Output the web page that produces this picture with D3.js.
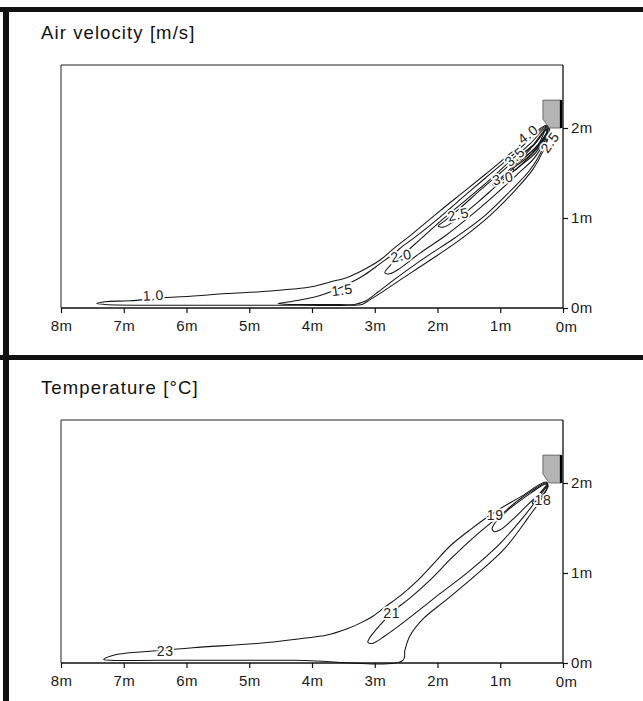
<!DOCTYPE html>
<html><head><meta charset="utf-8">
<script src="https://cdn.jsdelivr.net/npm/d3@7"></script>
<style>
body{margin:0;background:#fff}
text{font-family:"Liberation Sans",Arial,Helvetica,sans-serif}
</style>
</head><body>
<svg id="c" width="643" height="701"></svg>
<script>
// ---------- DATA (metres from wall, metres above floor) ----------
const xTicks = [8,7,6,5,4,3,2,1,0];
const yTicks = [0,1,2];
const panelTitles = ["Air velocity [m/s]", "Temperature [\u00B0C]"];

// Air velocity contours [m/s]
const velocityLevels = ["1.0","1.5","2.0","2.5","3.0","3.5","4.0"];
const v10 = [[0.26,2.03],[0.53,1.90],[0.80,1.74],[1.16,1.53],[1.53,1.32],[1.96,1.08],[2.39,0.83],[2.68,0.67],[2.92,0.53],[3.19,0.42],[3.44,0.34],[3.71,0.29],[3.98,0.24],[4.30,0.21],[4.83,0.18],[5.36,0.16],[5.94,0.13],[6.42,0.11],[6.90,0.08],[7.30,0.07],[7.43,0.05],
             [7.30,0.04],[6.42,0.03],[5.31,0.03],[4.19,0.03],[3.39,0.03],[3.20,0.04],[3.08,0.09],[2.92,0.16],[2.60,0.31],[2.12,0.53],[1.64,0.76],[1.16,1.03],[0.76,1.31],[0.48,1.54],[0.32,1.74],[0.21,1.97]];
const v15 = [[0.26,2.02],[0.53,1.87],[0.80,1.70],[1.16,1.49],[1.53,1.27],[1.96,1.01],[2.39,0.77],[2.57,0.68],[2.65,0.63],[2.92,0.49],[3.16,0.37],[3.39,0.28],[3.63,0.20],[3.87,0.14],[4.11,0.10],[4.35,0.07],[4.54,0.05],
             [4.35,0.04],[3.71,0.04],[3.32,0.04],[3.14,0.08],[2.98,0.16],[2.68,0.32],[2.20,0.56],[1.72,0.78],[1.24,1.03],[0.84,1.30],[0.53,1.53],[0.35,1.73],[0.22,1.97]];
const v20 = [[2.84,0.39],[2.73,0.49],[2.57,0.58],[2.28,0.76],[1.96,0.96],[1.53,1.21],[1.16,1.43],[0.80,1.66],[0.53,1.82],[0.26,2.01],
             [0.24,1.96],[0.43,1.69],[0.72,1.49],[1.08,1.26],[1.48,1.02],[1.88,0.80],[2.28,0.61],[2.60,0.44],[2.76,0.38]];
const v25 = [[1.99,0.91],[1.88,0.97],[1.64,1.11],[1.32,1.31],[1.00,1.50],[0.69,1.69],[0.43,1.84],[0.26,2.00],
             [0.25,1.96],[0.43,1.73],[0.72,1.56],[1.04,1.37],[1.35,1.18],[1.67,1.00],[1.90,0.90]];
const v30 = [[1.12,1.37],[1.00,1.44],[0.76,1.60],[0.53,1.76],[0.27,1.99],
             [0.25,1.97],[0.49,1.72],[0.76,1.57],[1.00,1.42],[1.10,1.36]];
const v35 = [[0.80,1.56],[0.61,1.67],[0.40,1.81],[0.27,1.98],
             [0.25,1.97],[0.40,1.78],[0.61,1.63],[0.78,1.53]];
const v40 = [[0.61,1.72],[0.45,1.82],[0.27,1.98],
             [0.25,1.97],[0.43,1.79],[0.59,1.70]];
const velocityContours = [v10, v15, v20, v25, v30, v35, v40];
const velocityLabelText = ["1.0","1.5","2.0","2.5","3.0","3.5","4.0","2.5"];
const velocityLabelX    = [6.53, 3.52, 2.58, 1.67, 0.96, 0.77, 0.56, 0.21];
const velocityLabelY    = [0.14, 0.20, 0.58, 1.04, 1.44, 1.68, 1.93, 1.84];

// Temperature contours [°C]
const temperatureLevels = ["23","21","19","18"];
const t23 = [[0.27,2.01],[0.69,1.84],[1.08,1.68],[1.48,1.48],[1.80,1.30],[2.04,1.12],[2.31,0.92],[2.57,0.76],[2.84,0.62],[3.03,0.52],[3.24,0.44],[3.44,0.38],[3.76,0.31],[4.19,0.27],[4.83,0.22],[5.90,0.17],[6.58,0.13],[6.95,0.11],[7.19,0.08],[7.32,0.04],
             [7.22,0.03],[6.42,0.03],[4.30,0.03],[2.55,0.03],[2.52,0.14],[2.44,0.30],[2.23,0.49],[1.88,0.69],[1.40,0.97],[0.92,1.28],[0.56,1.61],[0.33,1.84],[0.24,1.97]];
const t21 = [[0.27,2.00],[0.69,1.82],[1.00,1.64],[1.40,1.41],[1.77,1.17],[2.12,0.92],[2.44,0.72],[2.68,0.59],[2.84,0.48],[2.98,0.37],[3.08,0.28],[3.11,0.23],
             [3.03,0.22],[2.84,0.30],[2.49,0.48],[1.96,0.77],[1.48,1.03],[1.00,1.33],[0.61,1.64],[0.37,1.86],[0.25,1.98]];
const t19 = [[0.27,1.99],[0.61,1.84],[0.84,1.72],[1.00,1.62],[1.10,1.54],[1.13,1.49],[1.10,1.46],
             [1.00,1.48],[0.81,1.59],[0.56,1.76],[0.35,1.90],[0.25,1.97]];
const t18 = [[0.25,1.98],[0.35,1.90],[0.45,1.82],[0.49,1.78],[0.46,1.77],[0.37,1.83],[0.27,1.92],[0.24,1.96]];
const temperatureContours = [t23, t21, t19, t18];
const temperatureLabelText = ["23","21","19","18"];
const temperatureLabelX    = [6.34, 2.73, 1.08, 0.32];
const temperatureLabelY    = [0.13, 0.56, 1.64, 1.81];

// Air outlet (metres)
const outletX = [0.32, 0.03, 0.03, 0.22, 0.32];
const outletY = [2.31, 2.31, 2.00, 2.00, 2.10];

// ---------- DRAWING ----------
const svg = d3.select("#c");
svg.append("rect").attr("width",643).attr("height",701).attr("fill","#fff");

const panels = [
  {title: panelTitles[0], titleY: 39, top: 65, bottom: 308,
   contours: velocityContours,
   labels: velocityLabelText.map((t,i)=>({t, x: velocityLabelX[i], y: velocityLabelY[i]})),
   angles: [-3,-8,-12,-12,-12,-42,-38,-55]},
  {title: panelTitles[1], titleY: 394, top: 420, bottom: 663,
   contours: temperatureContours,
   labels: temperatureLabelText.map((t,i)=>({t, x: temperatureLabelX[i], y: temperatureLabelY[i]})),
   angles: [0,0,0,0]}
];

panels.forEach(p => {
  const x = d3.scaleLinear().domain([8,0]).range([61,563]);
  const y = d3.scaleLinear().domain([0,2.7]).range([p.bottom,p.top]);
  const g = svg.append("g");

  g.append("text").attr("x",41).attr("y",p.titleY).attr("font-size",18.5)
    .attr("letter-spacing",1.1).attr("fill","#111").text(p.title);

  // plot frame (top & left)
  g.append("path")
    .attr("d", `M${x(8)},${y(0)}V${y(2.7)}H${x(0)}`)
    .attr("fill","none").attr("stroke","#222").attr("stroke-width",1);

  // contours
  const line = d3.line().x(d=>x(d[0])).y(d=>y(d[1])).curve(d3.curveCatmullRomClosed.alpha(0.5));
  g.selectAll("path.ct").data(p.contours).join("path").attr("class","ct")
    .attr("d", line).attr("fill","none").attr("stroke","#151515").attr("stroke-width",1.05);

  // outlet
  const pts = outletX.map((v,i)=>[v,outletY[i]]);
  g.append("path").attr("d", d3.line().x(d=>x(d[0])).y(d=>y(d[1]))(pts)+"Z")
    .attr("fill","#b4b4b4").attr("stroke","#555").attr("stroke-width",0.8);
  g.append("line").attr("x1",x(outletX[1])).attr("x2",x(outletX[2]))
    .attr("y1",y(outletY[1])).attr("y2",y(outletY[2]))
    .attr("stroke","#000").attr("stroke-width",2.5);

  // labels
  g.selectAll("text.lbl").data(p.labels).join("text").attr("class","lbl")
    .attr("transform",(d,i)=>`translate(${x(d.x)},${y(d.y)}) rotate(${p.angles[i]})`)
    .attr("text-anchor","middle").attr("dy","0.35em").attr("font-size",14)
    .attr("letter-spacing",0.6)
    .attr("fill","#222").attr("stroke","#fff").attr("stroke-width",3.5)
    .attr("paint-order","stroke").text(d=>d.t);

  // axes
  const xa = g.append("g").attr("transform",`translate(0,${y(0)})`)
    .call(d3.axisBottom(x).tickValues(xTicks).tickFormat(d=>d+"m").tickSize(5).tickPadding(7));
  const ya = g.append("g").attr("transform",`translate(${x(0)},0)`)
    .call(d3.axisRight(y).tickValues(yTicks).tickFormat(d=>d+"m").tickSize(5).tickPadding(3));
  [xa,ya].forEach(a=>{
    a.select(".domain").attr("stroke","#111").attr("stroke-width",1.3);
    a.selectAll(".tick line").attr("stroke","#111").attr("stroke-width",1.2);
    a.selectAll(".tick text").attr("font-size",15).attr("fill","#1a1a1a")
      .attr("letter-spacing",0.3)
      .attr("font-family","'Liberation Sans',Arial,sans-serif");
  });
  ya.select(".domain").attr("d",`M0,${y(2.7)}V${y(0)}`);
  xa.select(".domain").attr("d",`M${x(8)},0H${x(0)}`);
  xa.selectAll(".tick text").filter(d=>d===0).attr("dx",3).attr("dy","0.82em");
});

// outer frame
svg.append("rect").attr("x",0).attr("y",7).attr("width",643).attr("height",5).attr("fill","#111");
svg.append("rect").attr("x",3).attr("y",7).attr("width",6).attr("height",694).attr("fill","#111");
svg.append("rect").attr("x",0).attr("y",355).attr("width",643).attr("height",5).attr("fill","#111");
</script>
</body></html>
